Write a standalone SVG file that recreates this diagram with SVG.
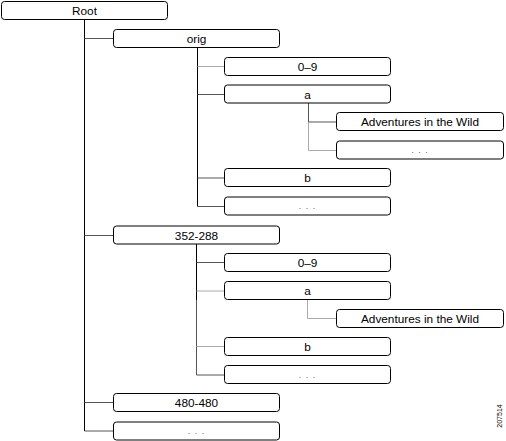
<svg xmlns="http://www.w3.org/2000/svg" width="506" height="441" viewBox="0 0 506 441">
<style>
.box{fill:#fff;stroke:#000;stroke-width:1}
.t{font-family:"Liberation Sans",Arial,sans-serif;font-size:11.8px;text-anchor:middle;fill:#000}
.d{font-family:"Liberation Sans",Arial,sans-serif;font-size:9px;text-anchor:middle;fill:#666;letter-spacing:1px}
.k{stroke:#000;stroke-width:1;fill:none}
.g{stroke:#555;stroke-width:1;fill:none}
.l{stroke:#aaa;stroke-width:1;fill:none}
</style>
<rect width="506" height="441" fill="#fff"/>
<g id="connectors">
<path class="k" d="M84.5 19V431"/>
<path class="g" d="M84.5 38.5H113M84.5 235.5H113M84.5 402.5H113M84.5 431H113"/>
<path class="k" d="M197.5 47V206.5"/>
<path class="l" d="M197.5 66.5H224"/>
<path class="g" d="M197.5 94.5H224M197.5 178H224M197.5 206.5H224"/>
<path class="g" d="M308.5 103V122H336"/>
<path class="l" d="M308.5 122V150.5H336"/>
<path class="k" d="M196.5 244V300"/>
<path class="g" d="M196.5 300V375H224M196.5 262.5H224"/>
<path class="l" d="M196.5 291H224M196.5 346.5H224"/>
<path class="l" d="M307.5 300V318.5H336"/>
</g>
<g id="root"><rect class="box" x="1.5" y="1.5" width="166" height="18" rx="3"/><text class="t" x="84.5" y="15.3">Root</text></g>
<g id="orig"><rect class="box" x="113.5" y="29.5" width="166" height="18" rx="3"/><text class="t" x="196.5" y="43.3">orig</text></g>
<g id="orig-09"><rect class="box" x="224.5" y="57.5" width="166" height="18" rx="3"/><text class="t" x="307.5" y="71.3">0–9</text></g>
<g id="orig-a"><rect class="box" x="224.5" y="85" width="166" height="18" rx="3"/><text class="t" x="307.5" y="98.8">a</text></g>
<g id="orig-a-adv"><rect class="box" x="336.5" y="112.5" width="167" height="18" rx="3"/><text class="t" x="420" y="126.3">Adventures in the Wild</text></g>
<g id="orig-a-more"><rect class="box" x="336.5" y="141" width="167" height="18" rx="3"/><text class="d" x="420" y="153">. . .</text></g>
<g id="orig-b"><rect class="box" x="224.5" y="168.5" width="166" height="18" rx="3"/><text class="t" x="307.5" y="182.3">b</text></g>
<g id="orig-more"><rect class="box" x="224.5" y="197" width="166" height="18" rx="3"/><text class="d" x="307.5" y="209">. . .</text></g>
<g id="n352"><rect class="box" x="113.5" y="226" width="166" height="18" rx="3"/><text class="t" x="196.5" y="239.8">352-288</text></g>
<g id="n352-09"><rect class="box" x="224.5" y="253.5" width="166" height="18" rx="3"/><text class="t" x="307.5" y="267.3">0–9</text></g>
<g id="n352-a"><rect class="box" x="224.5" y="281.5" width="166" height="18" rx="3"/><text class="t" x="307.5" y="295.3">a</text></g>
<g id="n352-a-adv"><rect class="box" x="336.5" y="309.5" width="167" height="18" rx="3"/><text class="t" x="420" y="323.3">Adventures in the Wild</text></g>
<g id="n352-b"><rect class="box" x="224.5" y="337.5" width="166" height="18" rx="3"/><text class="t" x="307.5" y="351.3">b</text></g>
<g id="n352-more"><rect class="box" x="224.5" y="365.5" width="166" height="18" rx="3"/><text class="d" x="307.5" y="377.5">. . .</text></g>
<g id="n480"><rect class="box" x="113.5" y="393.5" width="166" height="18" rx="3"/><text class="t" x="196.5" y="407.3">480-480</text></g>
<g id="root-more"><rect class="box" x="113.5" y="422" width="166" height="18" rx="3"/><text class="d" x="196.5" y="434">. . .</text></g>
<text x="0" y="0" transform="translate(502 416) rotate(-90)" font-family="Liberation Sans,Arial,sans-serif" font-size="7" text-anchor="middle" fill="#000">207514</text>
</svg>
